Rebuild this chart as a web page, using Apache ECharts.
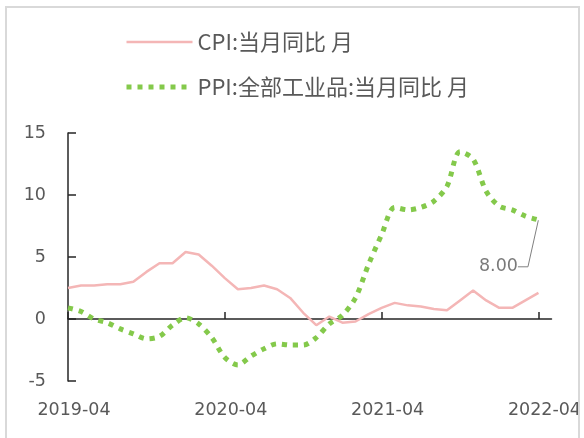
<!DOCTYPE html>
<html>
<head>
<meta charset="utf-8">
<script src="https://cdn.jsdelivr.net/npm/echarts@6/dist/echarts.min.js"></script>
<style>
  html, body { margin: 0; padding: 0; background: #fff; }
  #chart { width: 584px; height: 438px; }
</style>
</head>
<body>
<div id="chart"></div>
<script>
// months 2019-04 .. 2022-04, plus one empty slot the axis runs on to
var months = [
  '2019-04','2019-05','2019-06','2019-07','2019-08','2019-09','2019-10','2019-11','2019-12',
  '2020-01','2020-02','2020-03','2020-04','2020-05','2020-06','2020-07','2020-08','2020-09',
  '2020-10','2020-11','2020-12','2021-01','2021-02','2021-03','2021-04','2021-05','2021-06',
  '2021-07','2021-08','2021-09','2021-10','2021-11','2021-12','2022-01','2022-02','2022-03',
  '2022-04','2022-05'
];
var cpi = [2.5, 2.7, 2.7, 2.8, 2.8, 3.0, 3.8, 4.5, 4.5, 5.4, 5.2, 4.3, 3.3, 2.4, 2.5, 2.7, 2.4, 1.7,
  0.5, -0.5, 0.2, -0.3, -0.2, 0.4, 0.9, 1.3, 1.1, 1.0, 0.8, 0.7, 1.5, 2.3, 1.5, 0.9, 0.9, 1.5, 2.1];
var ppi = [0.9, 0.6, 0.0, -0.3, -0.8, -1.2, -1.6, -1.4, -0.5, 0.1, -0.4, -1.5, -3.1, -3.7, -3.0, -2.4, -2.0, -2.1,
  -2.1, -1.5, -0.4, 0.3, 1.7, 4.4, 6.8, 9.0, 8.8, 9.0, 9.5, 10.7, 13.5, 12.9, 10.3, 9.1, 8.8, 8.3, 8.0];
var yTicks = { min: -5, max: 15, step: 5 };
var seriesNames = ['CPI:当月同比 月', 'PPI:全部工业品:当月同比 月'];

var axisFont = 'DejaVu Sans';
var textColor = '#595959';

var chart = echarts.init(document.getElementById('chart'), null, { renderer: 'canvas' });

var lastIdx = ppi.length - 1;

var option = {
  animation: false,
  backgroundColor: '#fff',
  graphic: [
    {
      type: 'rect', z: 100, silent: true,
      shape: { x: 579, y: 0, width: 10, height: 438 },
      style: { fill: '#fff' }
    },
    {
      type: 'rect', z: 101, silent: true,
      shape: { x: 6, y: 7, width: 573, height: 500 },
      style: { fill: 'none', stroke: '#d9d9d9', lineWidth: 2 }
    }
  ],
  legend: {
    orient: 'vertical',
    left: 119,
    top: 26,
    itemWidth: 66,
    itemHeight: 14,
    itemGap: 23,
    itemStyle: { opacity: 0 },
    lineStyle: { width: 'inherit' },
    textStyle: { fontFamily: 'Noto Sans CJK SC', fontSize: 22, color: textColor },
    data: seriesNames
  },
  grid: { left: 68, right: 27, top: 133, bottom: 57 },
  xAxis: [
    {
      type: 'category',
      data: months,
      boundaryGap: false,
      axisLine: { onZero: true, lineStyle: { color: '#262626', width: 1.5 } },
      axisTick: { inside: true, length: 7, interval: 11, lineStyle: { color: '#262626', width: 1.5 } },
      axisLabel: { show: false }
    },
    {
      type: 'category',
      data: months,
      boundaryGap: false,
      position: 'bottom',
      axisLine: { show: false, onZero: false },
      axisTick: { show: false },
      axisLabel: {
        interval: 11, margin: 20, padding: [0, 0, 0, 12],
        fontFamily: axisFont, fontSize: 17.5, color: textColor
      }
    }
  ],
  yAxis: {
    type: 'value',
    min: yTicks.min,
    max: yTicks.max,
    interval: yTicks.step,
    splitLine: { show: false },
    axisLine: { show: true, lineStyle: { color: '#262626', width: 1.5 } },
    axisTick: { show: true, inside: true, length: 8, lineStyle: { color: '#262626', width: 1.5 } },
    axisLabel: { margin: 22, fontFamily: axisFont, fontSize: 17.5, color: textColor }
  },
  series: [
    {
      name: seriesNames[0],
      type: 'line',
      data: cpi,
      symbol: 'none',
      z: 3,
      lineStyle: { color: '#f4b6b6', width: 2.5 },
      itemStyle: { color: '#f4b6b6' }
    },
    {
      name: seriesNames[1],
      type: 'line',
      data: ppi,
      symbol: 'none',
      smooth: 0.3,
      z: 2,
      lineStyle: { color: '#84c94b', width: 5, type: [5, 6], cap: 'butt' },
      itemStyle: { color: '#84c94b' }
    },
    {
      // data label on the last PPI value, with a bent leader line
      type: 'scatter',
      data: [[months[lastIdx], ppi[lastIdx]]],
      symbolSize: 1,
      itemStyle: { color: 'rgba(0,0,0,0)' },
      silent: true,
      label: {
        show: true,
        position: 'left',
        padding: [0, 8, 0, 40],
        formatter: function (p) { return p.value[1].toFixed(2); },
        fontFamily: axisFont, fontSize: 17.5, color: textColor
      },
      labelLayout: { dx: -7, dy: 47 },
      labelLine: { show: true, length2: 10, lineStyle: { color: '#808080', width: 1 } }
    }
  ]
};

chart.setOption(option);
</script>
</body>
</html>
